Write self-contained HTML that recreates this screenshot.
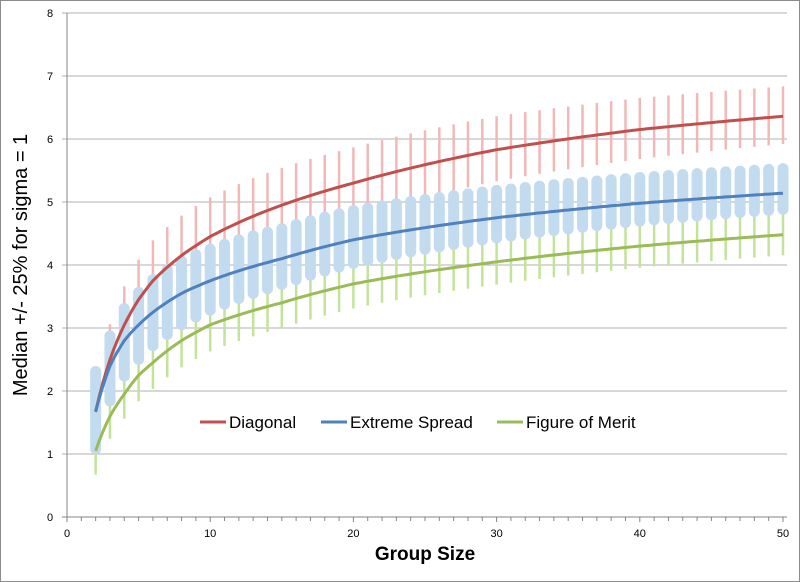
<!DOCTYPE html>
<html><head><meta charset="utf-8"><style>
html,body{margin:0;padding:0;background:#fff}
svg{display:block}
text{font-family:"Liberation Sans",sans-serif}
</style></head><body>
<svg id="s" width="800" height="582" xmlns="http://www.w3.org/2000/svg">
<rect x="0.5" y="0.5" width="799" height="581" fill="#fff" stroke="#8c8c8c"/>
<g id="grid"></g>
<g id="bars"></g>
<g id="lines"></g>
<text x="27" y="265" font-size="20" text-anchor="middle" transform="rotate(-90 27 265)">Median +/- 25% for sigma = 1</text>
<text x="425" y="560" font-size="19" font-weight="bold" text-anchor="middle">Group Size</text>
<line x1="200" y1="422" x2="226" y2="422" stroke="#c0504d" stroke-width="3"/>
<text x="229" y="428" font-size="17">Diagonal</text>
<line x1="321" y1="422" x2="347" y2="422" stroke="#4f81bd" stroke-width="3"/>
<text x="350" y="428" font-size="17">Extreme Spread</text>
<line x1="497" y1="422" x2="523" y2="422" stroke="#9bbb59" stroke-width="3"/>
<text x="526" y="428" font-size="17">Figure of Merit</text>
</svg>
<script>
var NS="http://www.w3.org/2000/svg";
function X(n){return 67+n*14.32}
function Y(v){return 517-v*63}
function el(p,t,a){var e=document.createElementNS(NS,t);for(var k in a)e.setAttribute(k,a[k]);document.getElementById(p).appendChild(e);return e}
var g="grid";
for(var i=0;i<=8;i++){el(g,"line",{x1:62,x2:787,y1:Y(i),y2:Y(i),stroke:i==0?"#868686":"#b0b0b0","stroke-width":1});
var t=el(g,"text",{x:50,y:Y(i)+4,"font-size":11,"text-anchor":"middle"});t.textContent=i;}
el(g,"line",{x1:67,x2:67,y1:13,y2:517,stroke:"#868686"});
for(var n=0;n<=50;n++){el(g,"line",{x1:X(n),x2:X(n),y1:517,y2:n%10==0?522:521,stroke:"#868686"});
if(n%10==0){var t=el(g,"text",{x:X(n),y:537,"font-size":11,"text-anchor":"middle"});t.textContent=n;}}
function interp(pts,n){for(var i=0;i<pts.length-1;i++){var a=pts[i],b=pts[i+1];if(n>=a[0]&&n<=b[0]){var f=(Math.log(n)-Math.log(a[0]))/(Math.log(b[0])-Math.log(a[0]));return a[1]+f*(b[1]-a[1]);}}return pts[pts.length-1][1]}
var B=[[2,1.67],[3,2.4],[4,2.8],[5,3.05],[6,3.25],[8,3.55],[10,3.75],[15,4.1],[20,4.4],[30,4.75],[40,4.98],[50,5.14]];
var R=[[2,1.67],[3,2.5],[4,3.05],[5,3.45],[6,3.75],[8,4.15],[10,4.45],[15,4.95],[20,5.3],[30,5.83],[40,6.15],[50,6.36]];
var G=[[2,1.05],[3,1.6],[4,1.95],[5,2.25],[6,2.45],[8,2.8],[10,3.05],[15,3.4],[20,3.7],[30,4.05],[40,4.3],[50,4.48]];
function d(c,e,n,sp){return n==2?sp:c*Math.pow(4/n,e)}
for(var n=2;n<=50;n++){
var r=interp(R,n);el("bars","line",{x1:X(n),x2:X(n),y1:Y(r*(1-d(0.2,0.42,n,0.4))),y2:Y(r*(1+d(0.2,0.39,n,0.43))),stroke:"#f2b8b8","stroke-width":2.5});
var gg=interp(G,n);el("bars","line",{x1:X(n),x2:X(n),y1:Y(gg*(1-d(0.2,0.4,n,0.36))),y2:Y(gg*(1+d(0.2,0.4,n,0.4))),stroke:"#c4e39a","stroke-width":2.5});}
for(var n=2;n<=50;n++){var b=interp(B,n);
var lo=Y(b*(1-d(0.23,0.5,n,0.4))),hi=Y(b*(1+d(0.21,0.33,n,0.43)));
el("bars","line",{x1:X(n),x2:X(n),y1:lo-5,y2:hi+5,stroke:"#c3dbef","stroke-width":11,"stroke-linecap":"round"});}
[[R,"#c0504d"],[B,"#4f81bd"],[G,"#9bbb59"]].forEach(function(p){var pts=[];for(var n=2;n<=50;n+=0.25)pts.push(X(n).toFixed(1)+","+Y(interp(p[0],n)).toFixed(1));
el("lines","polyline",{points:pts.join(" "),fill:"none",stroke:p[1],"stroke-width":3});});
</script>
</body></html>
